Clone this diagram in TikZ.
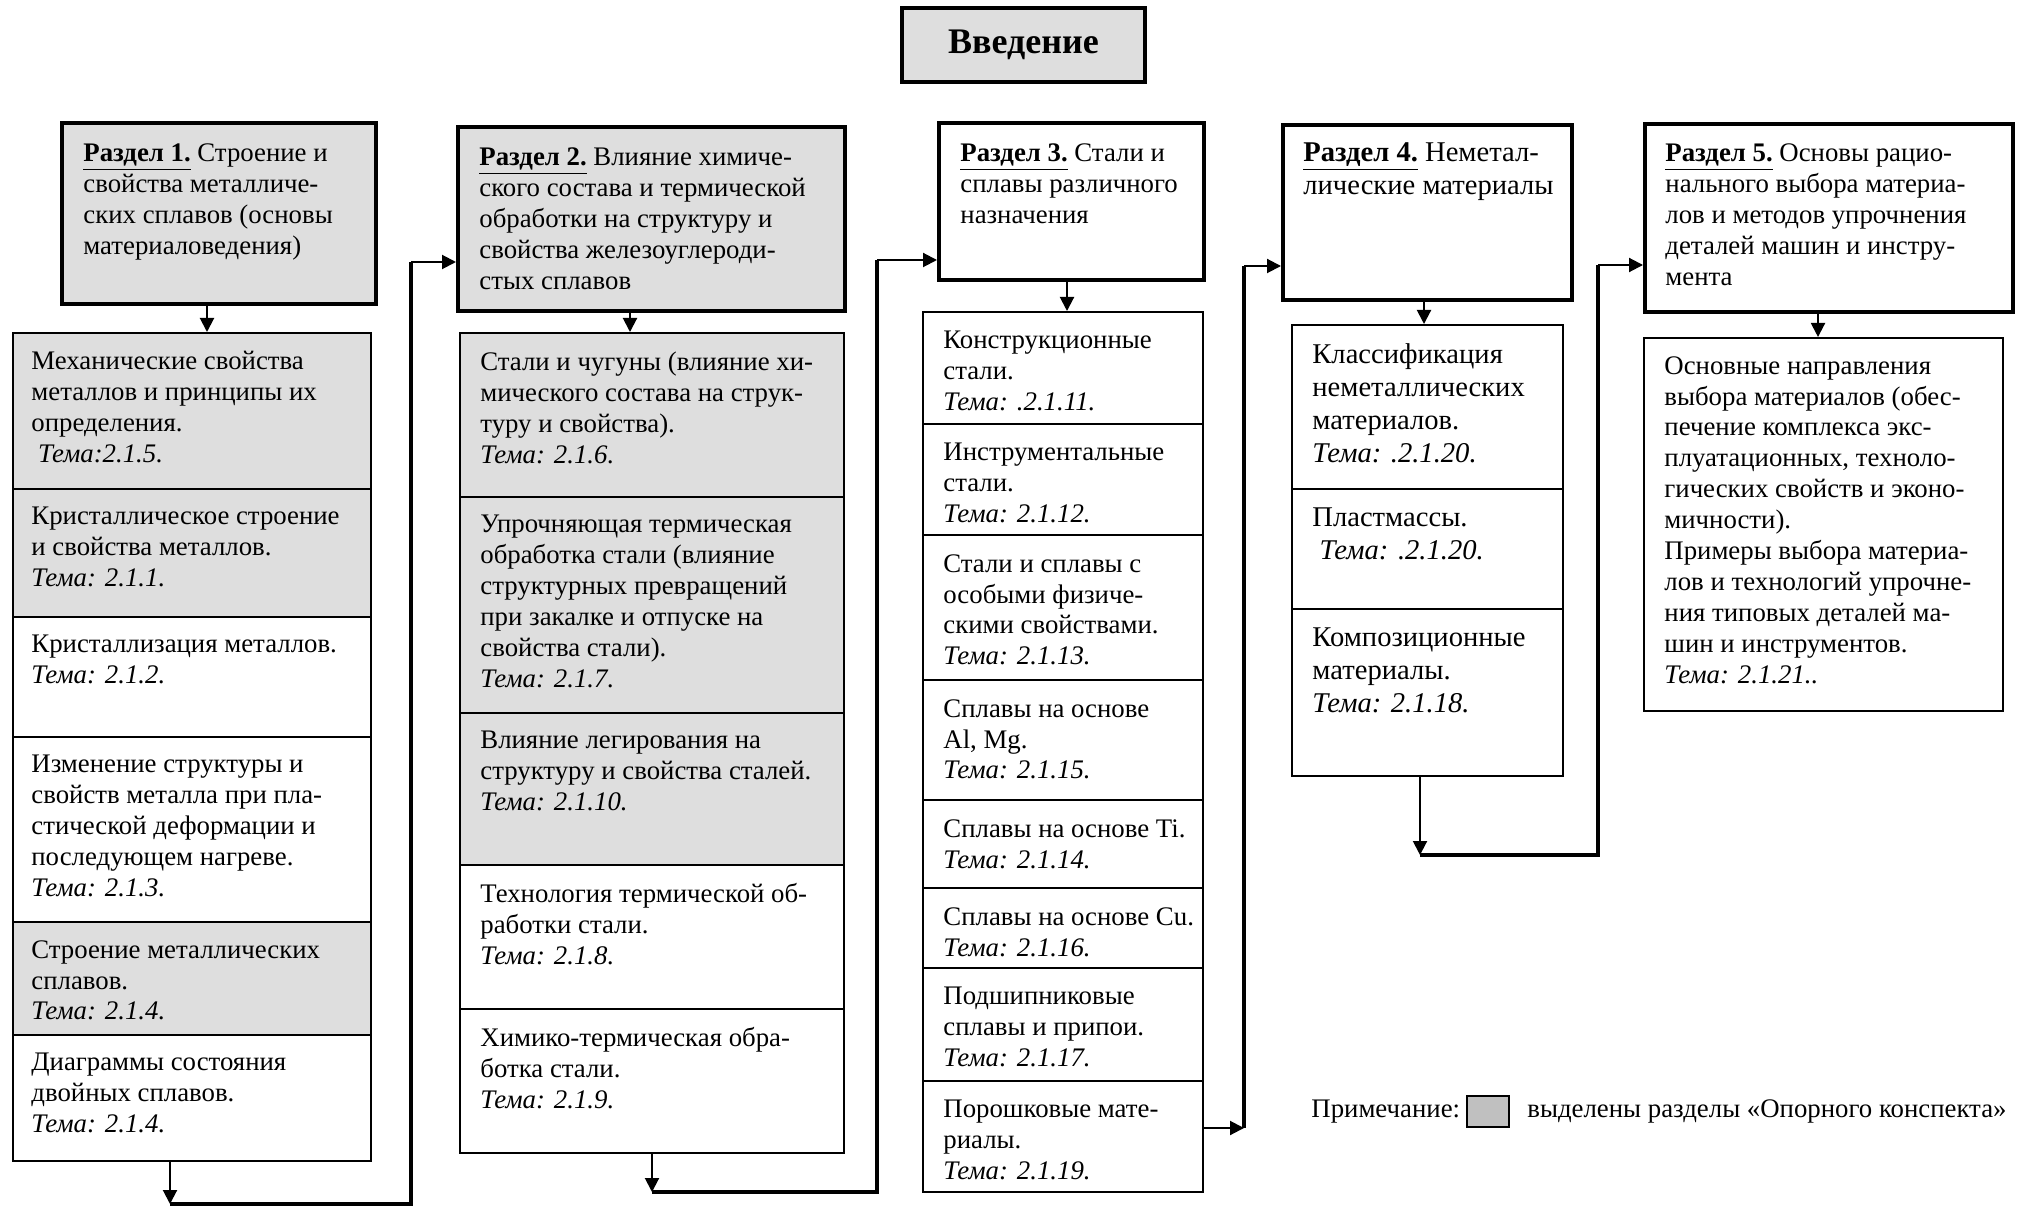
\documentclass[tikz,border=0pt]{standalone}
\usepackage{fontspec}
\setmainfont{Liberation Serif}
\usetikzlibrary{arrows.meta,fit}

\definecolor{boxgray}{HTML}{DEDEDE}
\definecolor{keygray}{HTML}{C0C0C0}

\newcommand\bodysize{\fontsize{13.4}{15.45}\selectfont}
\newcommand\largesize{\fontsize{14.3}{16.6}\selectfont}
\newcommand\introsize{\fontsize{18}{20}\selectfont}
\newcommand\razdel[1]{\underline{\textbf{Раздел #1.}}}
\newcommand\tema[1]{\textit{Тема: #1}}

\tikzset{
  sectbox/.style={draw, line width=2pt, fill=#1, inner sep=0pt},
  sectbox/.default=white,
  topicbox/.style={draw, line width=1pt, fill=#1, inner sep=0pt},
  topicbox/.default=white,
  txt/.style={anchor=north west, inner sep=0pt, align=left, font=\bodysize,
    execute at begin node={\rule{0pt}{0.76em}}},
  bigtxt/.style={txt, font=\largesize},
  link/.style={line width=1pt, -{Triangle[length=7pt,width=7pt]}},
  bus/.style={line width=2.2pt, line join=miter},
}

\begin{document}
\begin{tikzpicture}[x=0.5pt, y=-0.5pt]
\fill[white] (0,0) rectangle (2022,1208);
\useasboundingbox (0,0) rectangle (2022,1208);

% ---------- title ----------
\node[sectbox=boxgray, fit={(902,8) (1145,82)}] (intro) {};
\node[font=\introsize\bfseries, inner sep=0pt] (introtext) at (intro.center) {Введение};

% ---------- section headers ----------
\node[sectbox=boxgray, fit={(62,123) (376,304)}] (s1) {};
\node[txt] (s1t) at ([shift={(23,22.5)}]s1.north west)
  {\razdel{1} Строение и\\свойства металличе-\\ских сплавов (основы\\материаловедения)};

\node[sectbox=boxgray, fit={(458,127) (845,311)}] (s2) {};
\node[txt] (s2t) at ([shift={(23,22.5)}]s2.north west)
  {\razdel{2} Влияние химиче-\\ского состава и термической\\обработки на структуру и\\свойства железоуглероди-\\стых сплавов};

\node[sectbox, fit={(939,123) (1204,280)}] (s3) {};
\node[txt] (s3t) at ([shift={(23,22.5)}]s3.north west)
  {\razdel{3} Стали и\\сплавы различного\\назначения};

\node[sectbox, fit={(1283,125) (1572,300)}] (s4) {};
\node[bigtxt] (s4t) at ([shift={(22,19)}]s4.north west)
  {\razdel{4} Неметал-\\лические материалы};

\node[sectbox, fit={(1645,124) (2013,312)}] (s5) {};
\node[txt] (s5t) at ([shift={(22,21.5)}]s5.north west)
  {\razdel{5} Основы рацио-\\нального выбора материа-\\лов и методов упрочнения\\деталей машин и инстру-\\мента};

% ---------- column 1 ----------
\node[topicbox=boxgray, fit={(13,333) (371,489)}] (c1a) {};
\node[txt] (c1at) at ([shift={(19,19)}]c1a.north west)
  {Механические свойства\\металлов и принципы их\\определения.\\\hspace*{0.25em}\textit{Тема:2.1.5.}};
\node[topicbox=boxgray, fit={(13,489) (371,617)}] (c1b) {};
\node[txt] (c1bt) at ([shift={(19,19)}]c1b.north west)
  {Кристаллическое строение\\и свойства металлов.\\\tema{2.1.1.}};
\node[topicbox, fit={(13,617) (371,737)}] (c1c) {};
\node[txt] (c1ct) at ([shift={(19,19)}]c1c.north west)
  {Кристаллизация металлов.\\\tema{2.1.2.}};
\node[topicbox, fit={(13,737) (371,922)}] (c1d) {};
\node[txt] (c1dt) at ([shift={(19,19)}]c1d.north west)
  {Изменение структуры и\\свойств металла при пла-\\стической деформации и\\последующем нагреве.\\\tema{2.1.3.}};
\node[topicbox=boxgray, fit={(13,922) (371,1035)}] (c1e) {};
\node[txt] (c1et) at ([shift={(19,19)}]c1e.north west)
  {Строение металлических\\сплавов.\\\tema{2.1.4.}};
\node[topicbox, fit={(13,1035) (371,1161)}] (c1f) {};
\node[txt] (c1ft) at ([shift={(19,19)}]c1f.north west)
  {Диаграммы состояния\\двойных сплавов.\\\tema{2.1.4.}};

% ---------- column 2 ----------
\node[topicbox=boxgray, fit={(460,333) (844,497)}] (c2a) {};
\node[txt] (c2at) at ([shift={(21,19.5)}]c2a.north west)
  {Стали и чугуны (влияние хи-\\мического состава на струк-\\туру и свойства).\\\tema{2.1.6.}};
\node[topicbox=boxgray, fit={(460,497) (844,713)}] (c2b) {};
\node[txt] (c2bt) at ([shift={(21,19)}]c2b.north west)
  {Упрочняющая термическая\\обработка стали (влияние\\структурных превращений\\при закалке и отпуске на\\свойства стали).\\\tema{2.1.7.}};
\node[topicbox=boxgray, fit={(460,713) (844,865)}] (c2c) {};
\node[txt] (c2ct) at ([shift={(21,19)}]c2c.north west)
  {Влияние легирования на\\структуру и свойства сталей.\\\tema{2.1.10.}};
\node[topicbox, fit={(460,865) (844,1009)}] (c2d) {};
\node[txt] (c2dt) at ([shift={(21,19)}]c2d.north west)
  {Технология термической об-\\работки стали.\\\tema{2.1.8.}};
\node[topicbox, fit={(460,1009) (844,1153)}] (c2e) {};
\node[txt] (c2et) at ([shift={(21,19)}]c2e.north west)
  {Химико-термическая обра-\\ботка стали.\\\tema{2.1.9.}};

% ---------- column 3 ----------
\node[topicbox, fit={(923,312) (1203,424)}] (c3a) {};
\node[txt] (c3at) at ([shift={(21,20)}]c3a.north west)
  {Конструкционные\\стали.\\\tema{.2.1.11.}};
\node[topicbox, fit={(923,424) (1203,535)}] (c3b) {};
\node[txt] (c3bt) at ([shift={(21,20)}]c3b.north west)
  {Инструментальные\\стали.\\\tema{2.1.12.}};
\node[topicbox, fit={(923,535) (1203,680)}] (c3c) {};
\node[txt] (c3ct) at ([shift={(21,20)}]c3c.north west)
  {Стали и сплавы с\\особыми физиче-\\скими свойствами.\\\tema{2.1.13.}};
\node[topicbox, fit={(923,680) (1203,800)}] (c3d) {};
\node[txt] (c3dt) at ([shift={(21,20)}]c3d.north west)
  {Сплавы на основе\\Al, Mg.\\\tema{2.1.15.}};
\node[topicbox, fit={(923,800) (1203,888)}] (c3e) {};
\node[txt] (c3et) at ([shift={(21,20)}]c3e.north west)
  {Сплавы на основе Ti.\\\tema{2.1.14.}};
\node[topicbox, fit={(923,888) (1203,968)}] (c3f) {};
\node[txt] (c3ft) at ([shift={(21,20)}]c3f.north west)
  {Сплавы на основе Cu.\\\tema{2.1.16.}};
\node[topicbox, fit={(923,968) (1203,1081)}] (c3g) {};
\node[txt] (c3gt) at ([shift={(21,20)}]c3g.north west)
  {Подшипниковые\\сплавы и припои.\\\tema{2.1.17.}};
\node[topicbox, fit={(923,1081) (1203,1192)}] (c3h) {};
\node[txt] (c3ht) at ([shift={(21,20)}]c3h.north west)
  {Порошковые мате-\\риалы.\\\tema{2.1.19.}};

% ---------- column 4 ----------
\node[topicbox, fit={(1292,325) (1563,489)}] (c4a) {};
\node[bigtxt] (c4at) at ([shift={(21,19)}]c4a.north west)
  {Классификация\\неметаллических\\материалов.\\\tema{.2.1.20.}};
\node[topicbox, fit={(1292,489) (1563,609)}] (c4b) {};
\node[bigtxt] (c4bt) at ([shift={(21,19)}]c4b.north west)
  {Пластмассы.\\\hspace*{0.25em}\tema{.2.1.20.}};
\node[topicbox, fit={(1292,609) (1563,776)}] (c4c) {};
\node[bigtxt] (c4ct) at ([shift={(21,19)}]c4c.north west)
  {Композиционные\\материалы.\\\tema{2.1.18.}};

% ---------- column 5 ----------
\node[topicbox, fit={(1644,338) (2003,711)}] (c5) {};
\node[txt] (c5t) at ([shift={(21,19)}]c5.north west)
  {Основные направления\\выбора материалов (обес-\\печение комплекса экс-\\плуатационных, техноло-\\гических свойств и эконо-\\мичности).\\Примеры выбора материа-\\лов и технологий упрочне-\\ния типовых деталей ма-\\шин и инструментов.\\\tema{2.1.21..}};

% ---------- header-to-topic arrows ----------
\coordinate (x1) at (207,0);
\coordinate (x2) at (630,0);
\coordinate (x3) at (1067,0);
\coordinate (x4) at (1424,0);
\coordinate (x5) at (1818,0);
\draw[link] (s1.south -| x1) -- (c1a.north -| x1);
\draw[link] (s2.south -| x2) -- (c2a.north -| x2);
\draw[link] (s3.south -| x3) -- (c3a.north -| x3);
\draw[link] (s4.south -| x4) -- (c4a.north -| x4);
\draw[link] (s5.south -| x5) -- (c5.north -| x5);

% ---------- section-to-section routes ----------
% 1 -> 2
\coordinate (r1a) at (170,1204);
\coordinate (r1b) at (411,1204);
\coordinate (r1c) at (411,262);
\draw[link] (c1f.south -| r1a) -- (r1a);
\draw[bus] (r1a) -- (r1b) -- (r1c);
\draw[link] (r1c) -- (r1c -| s2.west);

% 2 -> 3
\coordinate (r2a) at (652,1192);
\coordinate (r2b) at (877,1192);
\coordinate (r2c) at (877,260);
\draw[link] (c2e.south -| r2a) -- (r2a);
\draw[bus] (r2a) -- (r2b) -- (r2c);
\draw[link] (r2c) -- (r2c -| s3.west);

% 3 -> 4
\coordinate (r3a) at (1244,1128);
\coordinate (r3b) at (1244,266);
\draw[link] (c3h.east |- r3a) -- (r3a);
\draw[bus] (r3a) -- (r3b);
\draw[link] (r3b) -- (r3b -| s4.west);

% 4 -> 5
\coordinate (r4a) at (1420,855);
\coordinate (r4b) at (1598,855);
\coordinate (r4c) at (1598,265);
\draw[link] (c4c.south -| r4a) -- (r4a);
\draw[bus] (r4a) -- (r4b) -- (r4c);
\draw[link] (r4c) -- (r4c -| s5.west);

% ---------- key ----------
\node[anchor=base west, inner sep=0pt, font=\bodysize] (note) at (1311,1117) {Примечание:};
\node[draw, line width=1pt, fill=keygray, inner sep=0pt, fit={(1467,1096) (1509,1127)}] (key) {};
\node[anchor=base west, inner sep=0pt, font=\bodysize] (notetext) at (1527,1117) {выделены разделы «Опорного конспекта»};
\end{tikzpicture}
\end{document}
